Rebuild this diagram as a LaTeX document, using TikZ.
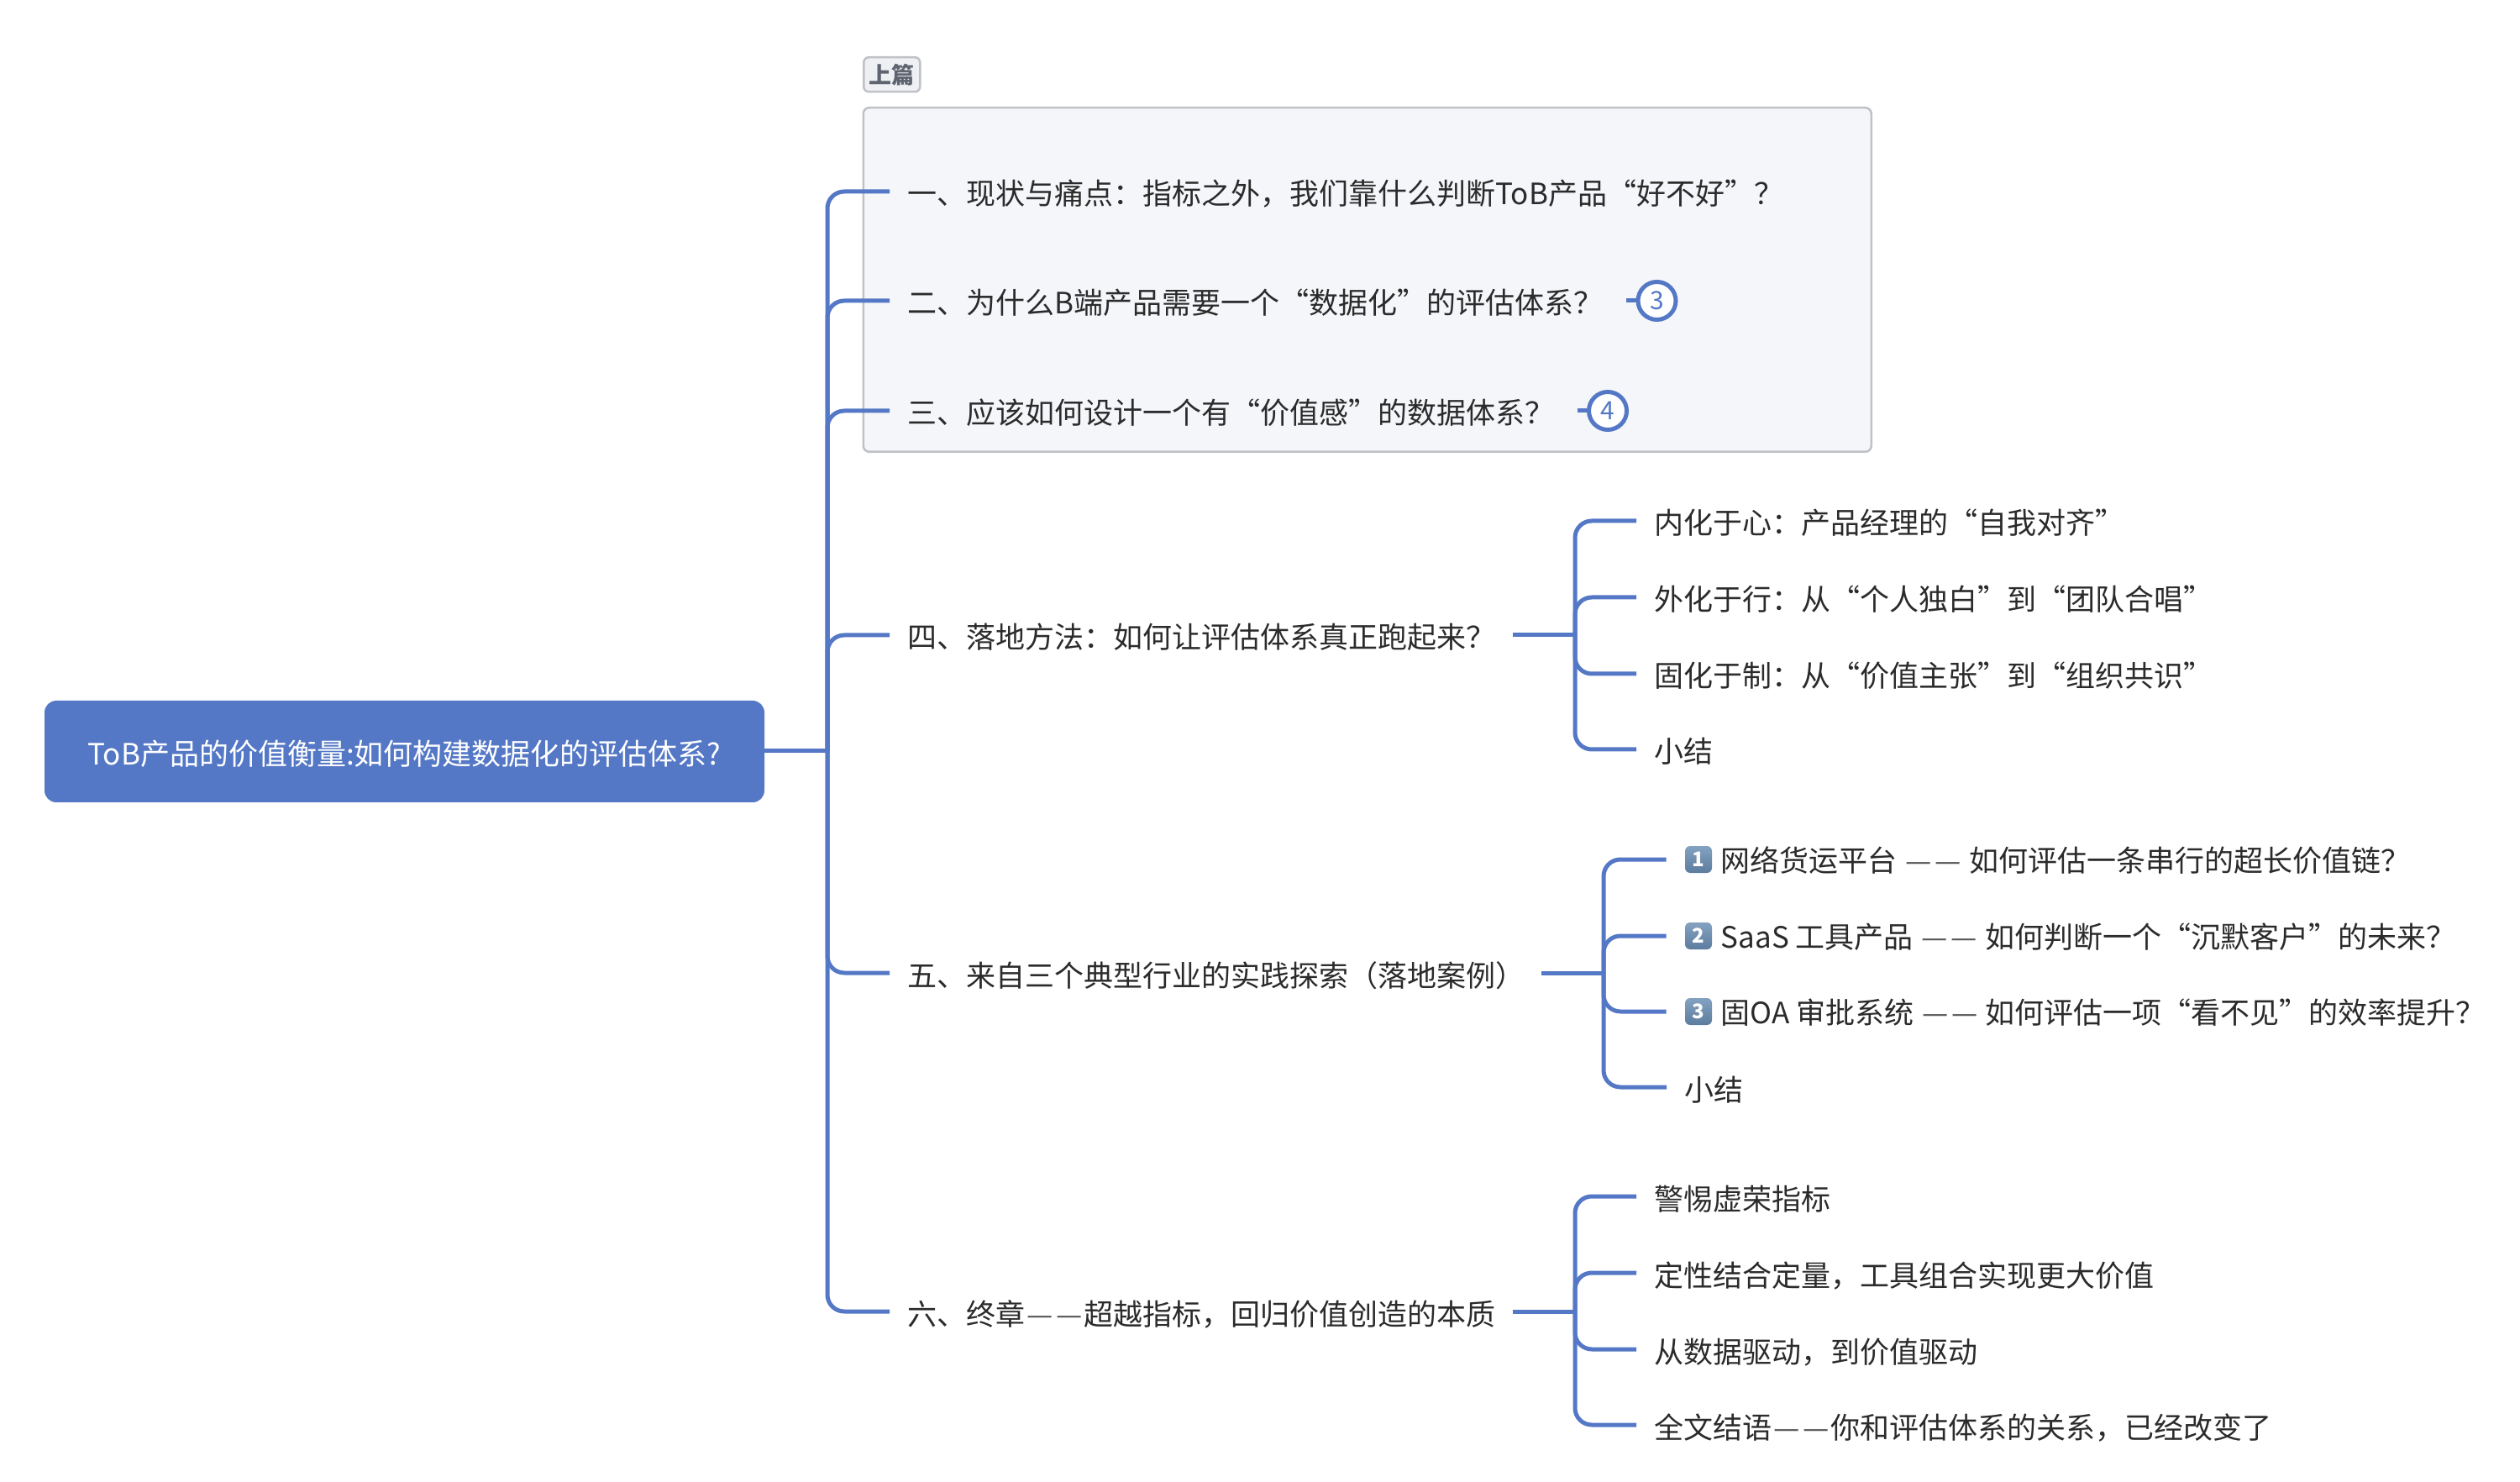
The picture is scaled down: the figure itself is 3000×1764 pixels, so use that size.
\documentclass[tikz,border=0pt]{standalone}
\usepackage{fontspec}
\setmainfont{Noto Sans CJK SC}
\usetikzlibrary{positioning}
\definecolor{mapblue}{HTML}{5478C6}
\definecolor{mapink}{HTML}{2B2B2B}
\definecolor{mapdash}{HTML}{5A5A5A}
\definecolor{boxfill}{HTML}{F4F6F9}
\definecolor{boxline}{HTML}{BFC1C6}
\definecolor{tagfill}{HTML}{EEF0F3}
\definecolor{tagink}{HTML}{5F6570}
\definecolor{capup}{HTML}{84A2C0}
\definecolor{capdown}{HTML}{5C7C9F}
\newcommand{\twodash}{\textcolor{mapdash}{\kern0.9pt—\kern1.8pt—\kern0.9pt}}
\begin{document}
\begin{tikzpicture}[x=0.5pt,y=-0.5pt] % 1 unit = 1 pixel of the reference
\tikzstyle{rootnode} = [fill=mapblue, text=white, rounded corners=7pt, minimum width=428.5pt, minimum height=60.5pt, inner sep=0pt, text height=19pt, text depth=3pt, font=\fontsize{17.5}{20}\selectfont] % central topic
\tikzstyle{branch} = [anchor=west, inner xsep=10.5pt, inner ysep=0pt, text=mapink, text height=19pt, text depth=3pt, align=left, font=\fontsize{17.5}{20}\selectfont] % topic text
\tikzstyle{aftercap} = [branch, inner xsep=5pt, yshift=1pt] % text behind a keycap
\tikzstyle{keycap} = [top color=capup, bottom color=capdown, text=white, rounded corners=3pt, minimum width=16pt, minimum height=16pt, inner sep=0pt, font=\fontsize{12}{13}\selectfont\bfseries] % number icon
\tikzstyle{conn} = [draw=mapblue, line width=2.5pt, rounded corners=10pt] % connector
\tikzstyle{numcirc} = [circle, draw=mapblue, line width=2.5pt, fill=white, text=mapblue, minimum size=22.5pt, inner sep=0pt, font=\fontsize{15}{16}\selectfont] % marker
\tikzstyle{groupbox} = [anchor=north west, draw=boxline, line width=1.25pt, fill=boxfill, rounded corners=3.5pt, minimum width=600pt, minimum height=204.75pt, inner sep=0pt] % summary frame
\tikzstyle{tagbox} = [anchor=north west, draw=boxline, line width=1.25pt, fill=tagfill, text=tagink, rounded corners=3pt, minimum width=33.5pt, minimum height=20.5pt, inner sep=0pt, font=\fontsize{13.5}{15}\selectfont\bfseries] % frame title
\useasboundingbox (0,0) rectangle (3000,1764);
\node[groupbox] (grp) at (1026.5,127) {};
\node[tagbox] (tag) at (1027,67) {上篇};
\node[rootnode] (root) at (481.5,894.5) {ToB产品的价值衡量:如何构建数据化的评估体系?};
% first level
\node[branch] (b1) at (1059,228) {一、现状与痛点：指标之外，我们靠什么判断ToB产品“好不好”？};
\node[branch, text width=417pt] (b2) at (1059,358) {二、为什么B端产品需要一个“数据化”的评估体系？};
\node[branch, text width=388pt] (b3) at (1059,489) {三、应该如何设计一个有“价值感”的数据体系？};
\node[branch, text width=349.5pt] (b4) at (1059,756) {四、落地方法：如何让评估体系真正跑起来？};
\node[branch, text width=366.5pt] (b5) at (1059,1158) {五、来自三个典型行业的实践探索（落地案例）};
\node[branch, text width=349.5pt] (b6) at (1059,1561) {\mbox{六、终章\twodash 超越指标，回归价值创造的本质}};
\node[numcirc] (n3) at (1972.5,358) {3};
\node[numcirc] (n4) at (1914,489) {4};
% second level
\node[branch] (c41) at (1948,620) {内化于心：产品经理的“自我对齐”};
\node[branch] (c42) at (1948,711) {外化于行：从“个人独白”到“团队合唱”};
\node[branch] (c43) at (1948,802) {固化于制：从“价值主张”到“组织共识”};
\node[branch] (c44) at (1948,892) {小结};
\node[keycap] (k1) at (2022,1023) {1};
\node[keycap] (k2) at (2022,1114) {2};
\node[keycap] (k3) at (2022,1204) {3};
\node[aftercap, right=0pt of k1] (c51) {网络货运平台 \twodash{} 如何评估一条串行的超长价值链？};
\node[aftercap, right=0pt of k2] (c52) {SaaS 工具产品 \twodash{} 如何判断一个“沉默客户”的未来？};
\node[aftercap, right=0pt of k3] (c53) {固OA 审批系统 \twodash{} 如何评估一项“看不见”的效率提升？};
\node[branch] (c54) at (1984,1294) {小结};
\node[branch] (c61) at (1948,1424) {警惕虚荣指标};
\node[branch] (c62) at (1948,1515) {定性结合定量，工具组合实现更大价值};
\node[branch] (c63) at (1948,1606) {从数据驱动，到价值驱动};
\node[branch] (c64) at (1948,1696) {全文结语\twodash 你和评估体系的关系，已经改变了};
% junctions
\coordinate (j0) at (985,894);
\coordinate (j4) at (1875,756);
\coordinate (j5) at (1909,1158);
\coordinate (j6) at (1875,1561);
% connectors
\draw[conn] (root.east |- j0) -- (j0);
\draw[conn] (j0) |- (b1.west);
\draw[conn] (j0) |- (b2.west);
\draw[conn] (j0) |- (b3.west);
\draw[conn] (j0) |- (b4.west);
\draw[conn] (j0) |- (b5.west);
\draw[conn] (j0) |- (b6.west);
\draw[conn] (b2.east) -- (n3.west);
\draw[conn] (b3.east) -- (n4.west);
\draw[conn] (b4.east) -- (j4);
\draw[conn] (b5.east) -- (j5);
\draw[conn] (b6.east) -- (j6);
\draw[conn] (j4) |- (c41.west);
\draw[conn] (j4) |- (c42.west);
\draw[conn] (j4) |- (c43.west);
\draw[conn] (j4) |- (c44.west);
\draw[conn, shorten >=11pt] (j5) |- (k1.west);
\draw[conn, shorten >=11pt] (j5) |- (k2.west);
\draw[conn, shorten >=11pt] (j5) |- (k3.west);
\draw[conn] (j5) |- (c54.west);
\draw[conn] (j6) |- (c61.west);
\draw[conn] (j6) |- (c62.west);
\draw[conn] (j6) |- (c63.west);
\draw[conn] (j6) |- (c64.west);
\end{tikzpicture}
\end{document}
